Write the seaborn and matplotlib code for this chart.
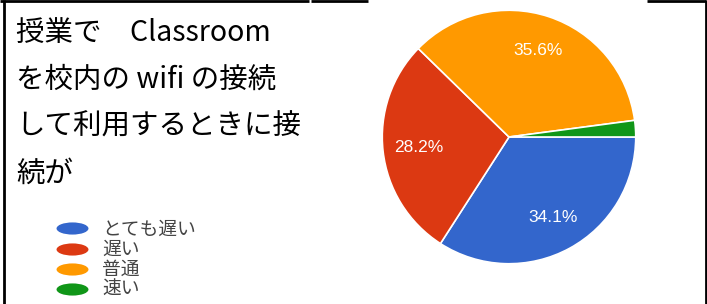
import matplotlib.pyplot as plt
import seaborn as sns
from matplotlib.lines import Line2D
from matplotlib.path import Path
from matplotlib.transforms import Affine2D

sns.set_theme(style="white")
plt.rcParams['font.family'] = ['Noto Sans CJK JP', 'DejaVu Sans']

# データ
categories = ['とても遅い', '遅い', '普通', '速い']
percentages = [34.1, 28.2, 35.6, 2.1]
colors = ['#3366cc', '#dc3912', '#ff9900', '#109618']
question_lines = ['授業で　Classroom', 'を校内の wifi の接続', 'して利用するときに接', '続が']

W, H = 707, 304
fig = plt.figure(figsize=(W / 100, H / 100), dpi=100)
fig.patch.set_facecolor('white')

# 円グラフ (中心 509,137 半径 128 px)
cx, cy, r = 509, 137, 128
ax = fig.add_axes([(cx - r) / W, (H - cy - r) / H, 2 * r / W, 2 * r / H])
wedges, texts, autotexts = ax.pie(
    percentages, colors=colors, startangle=0, counterclock=False,
    autopct=lambda p: f'{p:.1f}%' if p > 5 else '', pctdistance=0.72,
    wedgeprops=dict(edgecolor='white', linewidth=1.2),
    textprops=dict(color='white', fontsize=12.5, family=['Liberation Sans', 'DejaVu Sans']))
ax.set_xlim(-1.01, 1.01)
ax.set_ylim(-1.01, 1.01)
ax.set_aspect('equal')
ax.axis('off')

# 質問文
for i, line in enumerate(question_lines):
    fig.text(16 / W, 1 - (33 + i * 47) / H, line, fontsize=20.5, color='black',
             va='center', ha='left')

# 凡例 (楕円マーカー)
ellipse = Path.unit_circle().transformed(Affine2D().scale(1, 0.38))
handles = [Line2D([], [], marker=ellipse, linestyle='none', markersize=23,
                  markerfacecolor=c, markeredgewidth=0) for c in colors]
fig.legend(handles, categories, loc='upper left', bbox_to_anchor=(55 / W, 1 - 219 / H),
           frameon=False, fontsize=13.5, labelspacing=-0.05, handlelength=1.8,
           handletextpad=0.7, borderpad=0, borderaxespad=0, labelcolor='#444444')

# 表の罫線
border = dict(color='black', linewidth=2, solid_capstyle='butt')
fig.add_artist(Line2D([4 / W, 4 / W], [0, 1], **border))
fig.add_artist(Line2D([705.5 / W, 705.5 / W], [0, 1], **border))
fig.add_artist(Line2D([0, 309 / W], [1 - 1 / H, 1 - 1 / H], **border))
fig.add_artist(Line2D([311 / W, 368 / W], [1 - 1 / H, 1 - 1 / H], **border))
fig.add_artist(Line2D([647 / W, 706 / W], [1 - 1 / H, 1 - 1 / H], **border))

fig.savefig('out.png', dpi=100, facecolor='white')
